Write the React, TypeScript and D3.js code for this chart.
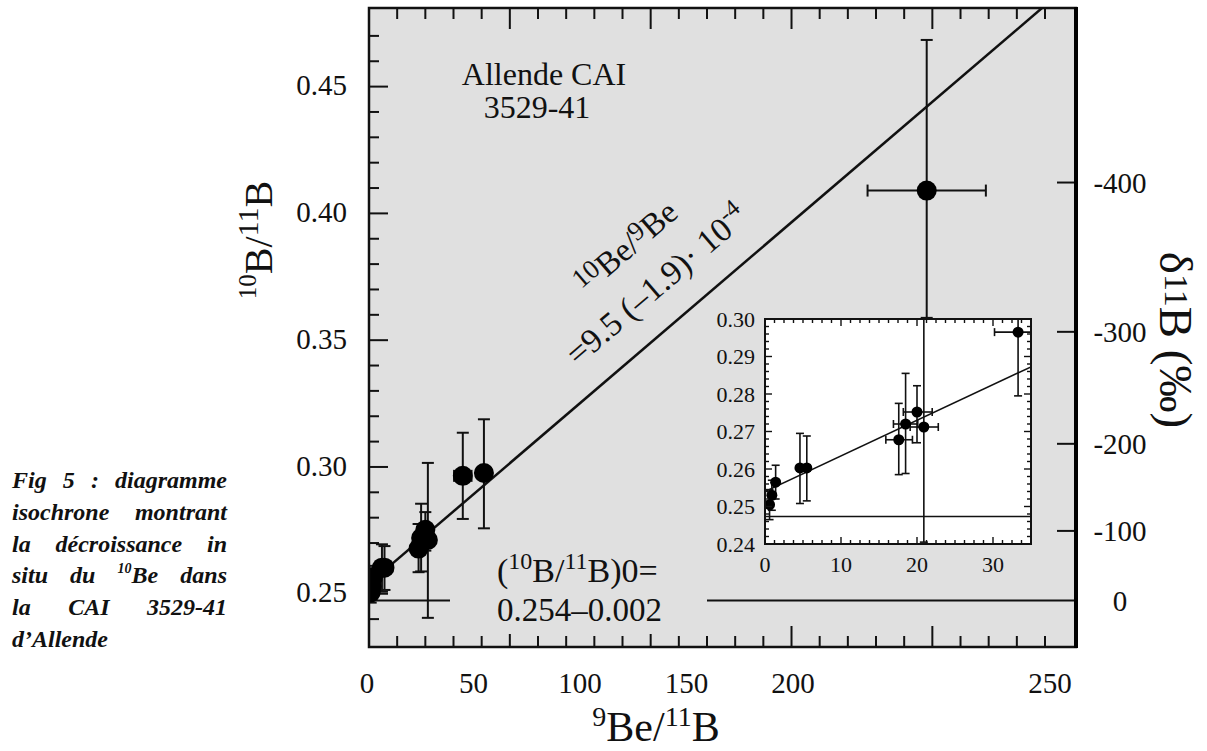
import { useEffect, useRef } from "react";
import * as d3 from "d3";

// 9Be/11B vs 10B/11B
const beX = [0.6, 0.9, 1.4, 4.6, 5.5, 17.6, 18.5, 20.0, 20.9, 33.3, 40.8, 198];
const bY = [0.2505, 0.253, 0.2565, 0.2603, 0.2603, 0.2678, 0.272, 0.2752, 0.2712, 0.2965, 0.2976, 0.409];
const yLo = [0.2465, 0.249, 0.252, 0.2508, 0.2515, 0.2585, 0.2588, 0.267, 0.2405, 0.2795, 0.2758, 0.3588];
const yHi = [0.2545, 0.257, 0.261, 0.2695, 0.2688, 0.2775, 0.2855, 0.2822, 0.3016, 0.3135, 0.3188, 0.4684];
const xLo = [0.3, 0.6, 1.1, 4.2, 5.1, 15.9, 16.9, 18.2, 19.1, 30.2, 38.3, 177];
const xHi = [0.9, 1.2, 1.7, 5.0, 5.9, 19.4, 20.1, 22.0, 22.8, 36.4, 43.3, 219];

// isochron fit
const intercept = 0.254;
const slope = 0.00095;
// NBS 951 11B/10B, used for the delta axis
const stdRatio = 4.04362;

const xTickLabels = [0, 50, 100, 150, 200, 250];
const yTickLabels = [0.25, 0.3, 0.35, 0.4, 0.45];
const deltaTicks = [-400, -300, -200, -100, 0];
const insetXLabels = [0, 10, 20, 30];
const insetYLabels = [0.24, 0.25, 0.26, 0.27, 0.28, 0.29, 0.3];

const captionLines = [
  ["Fig", "5", ":", "diagramme"],
  ["isochrone", "montrant"],
  ["la", "décroissance", "in"],
  ["situ", "du", "^10Be", "dans"],
  ["la", "CAI", "3529-41"],
  ["d’Allende"],
];

const SERIF = '"Liberation Serif", "Times New Roman", serif';
const BG = "#e0e0e0";

const frame = { l: 369, r: 1076, t: 8, b: 647 };
const inset = { l: 765, r: 1031, t: 319, b: 544 };

export default function App() {
  const capRef = useRef<SVGGElement>(null);

  const x = d3.scaleLinear().domain([0, 251]).range([frame.l, frame.r]);
  const y = d3.scaleLinear().domain([0.229, 0.481]).range([frame.b, frame.t]);
  // the printed x labels sit off their ticks in the original
  const xLabel = d3.scaleLinear().domain([0, 200, 250]).range([367, 793, 1050]);
  const deltaToR = (d: number) => 1 / ((1 + d / 1000) * stdRatio);

  const ix = d3.scaleLinear().domain([0, 35]).range([inset.l, inset.r]);
  const iy = d3.scaleLinear().domain([0.24, 0.3]).range([inset.b, inset.t]);

  const fit = (v: number) => intercept + slope * v;
  const angle = (-Math.atan((slope * (y(0) - y(1))) / (x(1) - x(0))) * 180) / Math.PI;

  const xMinor = d3.range(1, 25).map((v) => v * 10);
  const yMinor = d3.range(24, 48).map((v) => v / 100);
  const insetXTicks = d3.range(1, 28).map((v) => v * 1.25);
  const insetYTicks = d3.range(1, 30).map((v) => 0.24 + v * 0.002);

  const idx = d3.range(beX.length);

  useEffect(() => {
    const g = d3.select(capRef.current);
    g.selectAll("*").remove();
    const left = 12;
    const right = 227;
    captionLines.forEach((words, i) => {
      const base = 488 + i * 31.8;
      const nodes = words.map((w) => {
        const t = g
          .append("text")
          .attr("y", base)
          .attr("font-family", SERIF)
          .attr("font-style", "italic")
          .attr("font-weight", "bold")
          .attr("font-size", 24);
        const m = w.match(/^\^(\d+)(.*)$/);
        if (m) {
          t.append("tspan").attr("font-size", 14).attr("dy", -10).text(m[1]);
          t.append("tspan").attr("dy", 10).text(m[2]);
        } else {
          t.text(w);
        }
        return t;
      });
      const widths = nodes.map((n) => (n.node() as SVGTextElement).getComputedTextLength());
      const total = d3.sum(widths);
      const gap = words.length > 1 && i < captionLines.length - 1 ? (right - left - total) / (words.length - 1) : 6;
      let cx = left;
      nodes.forEach((n, k) => {
        n.attr("x", cx);
        cx += widths[k] + gap;
      });
    });
  }, []);

  return (
    <svg width={1207} height={751} style={{ position: "absolute", left: 0, top: 0, background: "#fff" }}>
      <defs>
        <clipPath id="mainClip">
          <rect x={frame.l} y={frame.t} width={frame.r - frame.l} height={frame.b - frame.t} />
        </clipPath>
        <clipPath id="insetClip">
          <rect x={inset.l} y={inset.t} width={inset.r - inset.l} height={inset.b - inset.t} />
        </clipPath>
      </defs>

      <rect x={frame.l} y={frame.t} width={frame.r - frame.l} height={frame.b - frame.t} fill={BG} />

      {/* delta = 0 reference */}
      <line x1={frame.l} x2={frame.r} y1={y(deltaToR(0))} y2={y(deltaToR(0))} stroke="#111" strokeWidth={2} />

      {/* label box hiding the reference line */}
      <rect x={450} y={548} width={257} height={86} fill={BG} />

      {/* ticks */}
      <g stroke="#111" strokeWidth={2}>
        {xMinor.map((v) => {
          const len = v % 50 === 0 ? 21 : 11;
          return (
            <g key={"xt" + v}>
              <line x1={x(v)} x2={x(v)} y1={frame.b} y2={frame.b - len} />
              <line x1={x(v)} x2={x(v)} y1={frame.t} y2={frame.t + len} />
            </g>
          );
        })}
        {yMinor.map((v) => {
          const len = Math.round(v * 100) % 5 === 0 ? 19 : 10;
          return <line key={"yt" + v} x1={frame.l} x2={frame.l + len} y1={y(v)} y2={y(v)} />;
        })}
        {deltaTicks.slice(0, 4).map((d) => (
          <line key={"dt" + d} x1={frame.r} x2={frame.r - 19} y1={y(deltaToR(d))} y2={y(deltaToR(d))} />
        ))}
      </g>

      {/* the label box also hides the tops of the bottom ticks */}
      <rect x={450} y={600} width={257} height={34} fill={BG} />

      {/* main fit line, error bars, points */}
      <g clipPath="url(#mainClip)">
        <line x1={x(0)} y1={y(fit(0))} x2={x(251)} y2={y(fit(251))} stroke="#111" strokeWidth={2.5} />
        <g stroke="#111" strokeWidth={2}>
          {idx.map((i) => (
            <g key={"eb" + i}>
              <line x1={x(beX[i])} x2={x(beX[i])} y1={y(yLo[i])} y2={y(yHi[i])} />
              <line x1={x(beX[i]) - 6} x2={x(beX[i]) + 6} y1={y(yLo[i])} y2={y(yLo[i])} />
              <line x1={x(beX[i]) - 6} x2={x(beX[i]) + 6} y1={y(yHi[i])} y2={y(yHi[i])} />
              <line x1={x(xLo[i])} x2={x(xHi[i])} y1={y(bY[i])} y2={y(bY[i])} />
              <line x1={x(xLo[i])} x2={x(xLo[i])} y1={y(bY[i]) - 6} y2={y(bY[i]) + 6} />
              <line x1={x(xHi[i])} x2={x(xHi[i])} y1={y(bY[i]) - 6} y2={y(bY[i]) + 6} />
            </g>
          ))}
        </g>
        {idx.map((i) => (
          <circle key={"pt" + i} cx={x(beX[i])} cy={y(bY[i])} r={10} fill="#000" />
        ))}
      </g>

      {/* frame */}
      <rect x={frame.l} y={frame.t} width={frame.r - frame.l} height={frame.b - frame.t} fill="none" stroke="#111" strokeWidth={2.5} />
      <line x1={frame.r} x2={frame.r} y1={frame.t - 1} y2={frame.b + 1} stroke="#000" strokeWidth={4} />

      {/* texts in the plot */}
      <g fontFamily={SERIF} fill="#111">
        <text x={544} y={85} fontSize={32} textAnchor="middle">Allende CAI</text>
        <text x={537} y={118} fontSize={32} textAnchor="middle">3529-41</text>
        <text x={497} y={582} fontSize={34}>
          (<tspan fontSize={24} dy={-13}>10</tspan>
          <tspan dy={13}>B/</tspan>
          <tspan fontSize={24} dy={-13}>11</tspan>
          <tspan dy={13}>B)0=</tspan>
        </text>
        <text x={497} y={621} fontSize={33}>0.254–0.002</text>
        <g transform={`translate(578,367) rotate(${angle})`}>
          <text x={53} y={-49} fontSize={33}>
            <tspan fontSize={27} dy={-8}>10</tspan>
            <tspan dy={8}>Be/</tspan>
            <tspan fontSize={27} dy={-8}>9</tspan>
            <tspan dy={8}>Be</tspan>
          </text>
          <text x={0} y={0} fontSize={34}>
            =9.5 (–1.9)· 10<tspan fontSize={24} dy={-13}>-4</tspan>
          </text>
        </g>
      </g>

      {/* inset */}
      <rect x={inset.l} y={inset.t} width={inset.r - inset.l} height={inset.b - inset.t} fill="#fff" />
      <g clipPath="url(#insetClip)">
        <line x1={inset.l} x2={inset.r} y1={iy(deltaToR(0))} y2={iy(deltaToR(0))} stroke="#111" strokeWidth={1.5} />
        <line x1={ix(0)} y1={iy(fit(0))} x2={ix(35)} y2={iy(fit(35))} stroke="#111" strokeWidth={1.5} />
        <g stroke="#111" strokeWidth={1.6}>
          {idx.map((i) => (
            <g key={"ieb" + i}>
              <line x1={ix(beX[i])} x2={ix(beX[i])} y1={iy(yLo[i])} y2={iy(yHi[i])} />
              <line x1={ix(beX[i]) - 4} x2={ix(beX[i]) + 4} y1={iy(yLo[i])} y2={iy(yLo[i])} />
              <line x1={ix(beX[i]) - 4} x2={ix(beX[i]) + 4} y1={iy(yHi[i])} y2={iy(yHi[i])} />
              <line x1={ix(xLo[i])} x2={ix(xHi[i])} y1={iy(bY[i])} y2={iy(bY[i])} />
              <line x1={ix(xLo[i])} x2={ix(xLo[i])} y1={iy(bY[i]) - 4} y2={iy(bY[i]) + 4} />
              <line x1={ix(xHi[i])} x2={ix(xHi[i])} y1={iy(bY[i]) - 4} y2={iy(bY[i]) + 4} />
            </g>
          ))}
        </g>
        {idx.map((i) => (
          <circle key={"ipt" + i} cx={ix(beX[i])} cy={iy(bY[i])} r={5.5} fill="#000" />
        ))}
      </g>
      <g stroke="#111" strokeWidth={1.4}>
        {insetXTicks.map((v) => {
          const len = v % 10 === 0 ? 7 : 4;
          return (
            <g key={"ixt" + v}>
              <line x1={ix(v)} x2={ix(v)} y1={inset.b} y2={inset.b - len} />
              <line x1={ix(v)} x2={ix(v)} y1={inset.t} y2={inset.t + len} />
            </g>
          );
        })}
        {insetYTicks.map((v, k) => {
          const len = (k + 1) % 5 === 0 ? 7 : 4;
          return (
            <g key={"iyt" + k}>
              <line x1={inset.l} x2={inset.l + len} y1={iy(v)} y2={iy(v)} />
              <line x1={inset.r} x2={inset.r - len} y1={iy(v)} y2={iy(v)} />
            </g>
          );
        })}
      </g>
      <rect x={inset.l} y={inset.t} width={inset.r - inset.l} height={inset.b - inset.t} fill="none" stroke="#111" strokeWidth={2} />
      <g fontFamily={SERIF} fontSize={22} fill="#111">
        {insetYLabels.map((v) => (
          <text key={"iyl" + v} x={inset.l - 10} y={iy(v)} dy="0.35em" textAnchor="end">
            {v.toFixed(2)}
          </text>
        ))}
        {insetXLabels.map((v) => (
          <text key={"ixl" + v} x={ix(v)} y={572} textAnchor="middle">
            {v}
          </text>
        ))}
      </g>

      {/* axis labels outside */}
      <g fontFamily={SERIF} fill="#111">
        {yTickLabels.map((v) => (
          <text key={"yl" + v} x={347} y={y(v)} dy="0.3em" fontSize={29} textAnchor="end">
            {v.toFixed(2)}
          </text>
        ))}
        {xTickLabels.map((v) => (
          <text key={"xl" + v} x={xLabel(v)} y={693} fontSize={29} textAnchor="middle">
            {v}
          </text>
        ))}
        {deltaTicks.map((d) => (
          <text key={"dl" + d} x={1120} y={y(deltaToR(d))} dy="0.35em" fontSize={29} textAnchor="middle">
            {d}
          </text>
        ))}
        <text transform="translate(272,240) rotate(-90)" fontSize={40} textAnchor="middle">
          <tspan fontSize={25} dy={-16}>10</tspan>
          <tspan dy={16}>B/</tspan>
          <tspan fontSize={30} dy={-14}>11</tspan>
          <tspan dy={14}>B</tspan>
        </text>
        <text x={656} y={741} fontSize={42} textAnchor="middle">
          <tspan fontSize={28} dy={-15}>9</tspan>
          <tspan dy={15}>Be/</tspan>
          <tspan fontSize={28} dy={-15}>11</tspan>
          <tspan dy={15}>B</tspan>
        </text>
        <text transform="translate(1160,340) rotate(90)" fontSize={47} textAnchor="middle">
          δ<tspan fontSize={34} dy={-5}>11</tspan>
          <tspan dy={5}>B (‰)</tspan>
        </text>
      </g>

      <g ref={capRef} fill="#111" />
    </svg>
  );
}
